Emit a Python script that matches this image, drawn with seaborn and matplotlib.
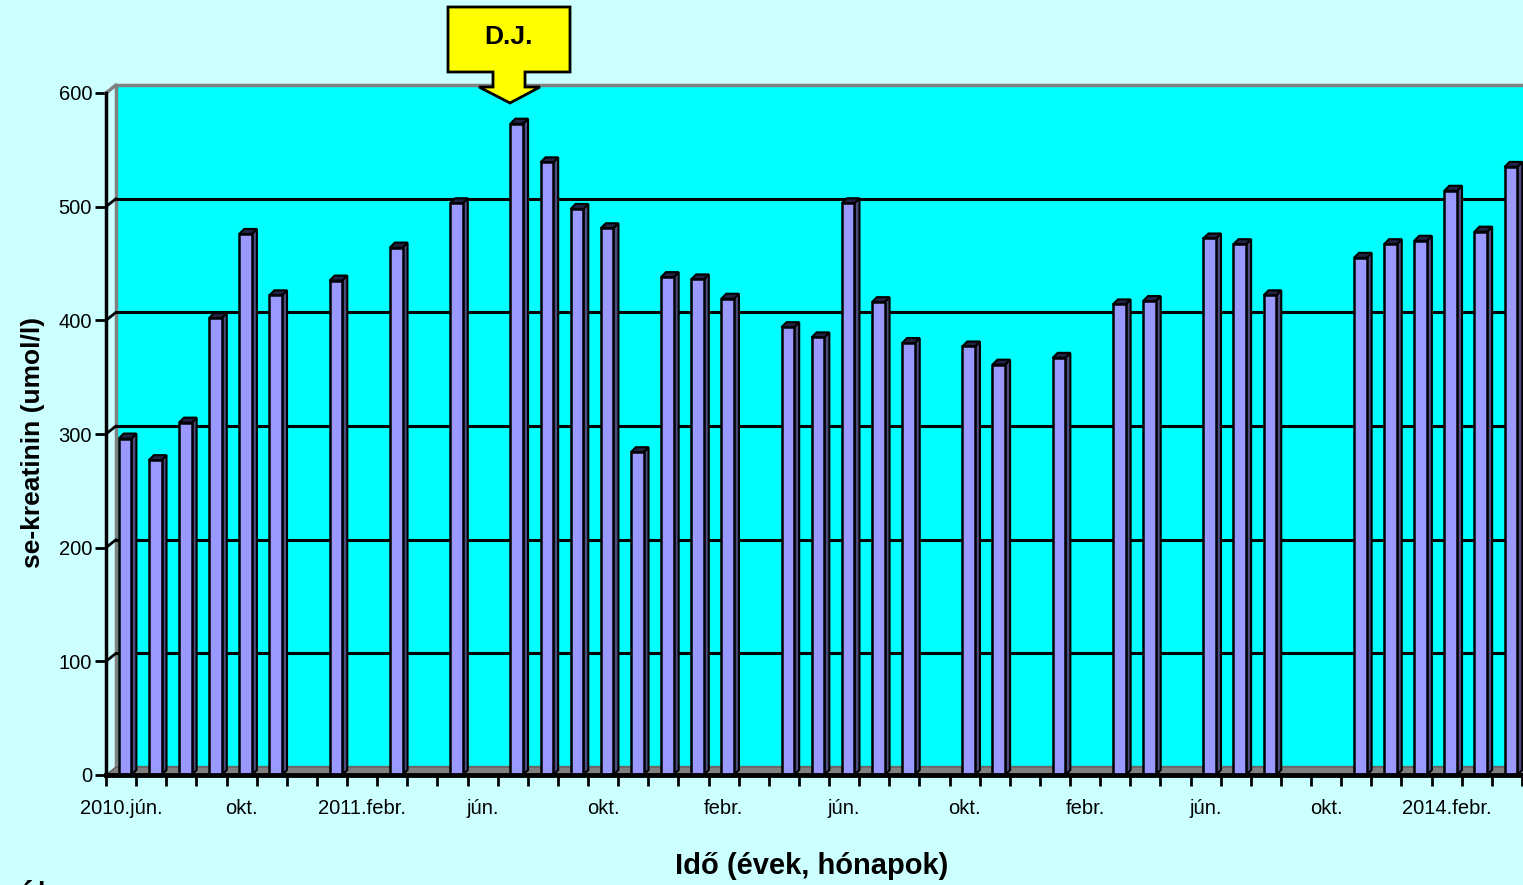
import numpy as np
import pandas as pd
import matplotlib
matplotlib.use('Agg')
import matplotlib.pyplot as plt
import matplotlib.transforms as mtransforms
import seaborn as sns
from matplotlib.patches import Polygon, Rectangle

# 2010 jún. - 2014 ápr. havi se-kreatinin értékek (NaN = nincs mérés)
honapok = [f'{2010 + (5 + i) // 12}-{(5 + i) % 12 + 1:02d}' for i in range(47)]
ertekek = [296, 277, 310, 402, 476, 422, np.nan, 435, np.nan, 464,
           np.nan, 503, np.nan, 573, 539, 498, 481, 284, 438, 436,
           419, np.nan, 394, 385, 503, 416, 380, np.nan, 377, 361,
           np.nan, 367, np.nan, 414, 417, np.nan, 472, 467, 422, np.nan,
           np.nan, 455, 467, 470, 514, 478, 535]
tick_pos = [0, 4, 8, 12, 16, 20, 24, 28, 32, 36, 40, 44]
tick_labels = ['2010.jún.', 'okt.', '2011.febr.', 'jún.', 'okt.', 'febr.',
               'jún.', 'okt.', 'febr.', 'jún.', 'okt.', '2014.febr.']
y_ticks = [0, 100, 200, 300, 400, 500, 600]

df = pd.DataFrame({'honap': honapok, 'ertek': ertekek})

sns.set_theme(style='white')
plt.rcParams['font.family'] = ['Liberation Sans Narrow', 'Liberation Sans', 'DejaVu Sans']
plt.rcParams['text.color'] = 'black'

BG = '#CCFFFF'
WALL = '#00FFFF'
BAR = '#9999FF'
fig = plt.figure(figsize=(15.23, 8.85), dpi=100, facecolor=BG)
ax = fig.add_axes([106 / 1523, 110 / 885, 1416 / 1523, 682 / 885])
ax.set_facecolor('none')

sns.barplot(data=df, x='honap', y='ertek', order=honapok, color=BAR,
            width=0.42, edgecolor='black', linewidth=1.8, saturation=1,
            errorbar=None, ax=ax, zorder=5)
ax.set_xlim(-0.5, 46.5)
ax.set_ylim(0, 600)

# pixel -> adat egység
sx = 1416 / 47.0
sy = 682 / 600.0
wdx, wdy = 10 / sx, 8 / sy    # hátfal eltolás
bdx, bdy = 5 / sx, 5 / sy     # oszlop mélység
shift = mtransforms.offset_copy(ax.transData, fig=fig, x=4, y=0, units='dots')

# hátfal, padló, rácsvonalak
ax.add_patch(Rectangle((-0.5 + wdx, wdy), 47, 600, facecolor=WALL,
                       edgecolor='#808080', linewidth=2.5, clip_on=False, zorder=0))
ax.add_patch(Polygon([(-0.5, 0), (46.5, 0), (46.5 + wdx, wdy), (-0.5 + wdx, wdy)],
                     closed=True, facecolor='#808080', edgecolor='#606060',
                     linewidth=1, clip_on=False, zorder=1))
ax.plot([-0.5, -0.5 + wdx], [600, 600 + wdy], color='#808080', lw=2.5,
        clip_on=False, zorder=1)
for yv in y_ticks[1:-1]:
    ax.plot([-0.5 + wdx, 46.5 + wdx], [yv + wdy, yv + wdy], color='black',
            lw=2.2, clip_on=False, zorder=1)
    ax.plot([-0.5, -0.5 + wdx], [yv, yv + wdy], color='black', lw=2,
            clip_on=False, zorder=1)

# 3D oldal- és tetőlap
bars = [p for p in ax.patches if isinstance(p, Rectangle)
        and p.get_facecolor()[:3] == matplotlib.colors.to_rgb(BAR)]
for p in bars:
    x0, w, h = p.get_x(), p.get_width(), p.get_height()
    if np.isnan(h) or h == 0:
        continue
    p.set_transform(shift)
    x1 = x0 + w
    ax.add_patch(Polygon([(x1, 0), (x1 + bdx, bdy), (x1 + bdx, h + bdy), (x1, h)],
                         closed=True, facecolor='#4D4D80', edgecolor='black',
                         linewidth=1.5, zorder=4, clip_on=False, transform=shift))
    ax.add_patch(Polygon([(x0, h), (x0 + bdx, h + bdy), (x1 + bdx, h + bdy), (x1, h)],
                         closed=True, facecolor='#222244', edgecolor='black',
                         linewidth=1.5, zorder=4, clip_on=False, transform=shift))

# tengelyek
for s in ['top', 'right']:
    ax.spines[s].set_visible(False)
ax.spines['left'].set_color('black')
ax.spines['left'].set_linewidth(2.5)
ax.spines['left'].set_zorder(6)
ax.spines['bottom'].set_color('black')
ax.spines['bottom'].set_linewidth(3.5)
ax.spines['bottom'].set_zorder(6)
ax.grid(False)

ax.set_yticks(y_ticks)
ax.set_yticklabels([str(v) for v in y_ticks])
ax.tick_params(axis='y', direction='out', length=8, width=2, color='black',
               labelsize=14.5, pad=2, labelcolor='black', left=True)
ax.set_xticks(tick_pos)
ax.set_xticklabels(tick_labels)
ax.set_xticks(np.arange(-0.5, 47, 1), minor=True)
ax.tick_params(axis='x', which='major', length=0, labelsize=14.5, pad=17,
               labelcolor='black', bottom=True)
ax.tick_params(axis='x', which='minor', direction='out', length=8, width=2,
               color='black', bottom=True)
ax.set_xlabel('')
ax.set_ylabel('')

fig.text(33 / 1523, 1 - 442 / 885, 'se-kreatinin (umol/l)', rotation=90,
         ha='center', va='center', fontsize=19, fontweight='bold',
         family=['Liberation Sans', 'DejaVu Sans'])
fig.text(812 / 1523, 1 - 866 / 885, 'Idő (évek, hónapok)', ha='center',
         va='center', fontsize=21, fontweight='bold')
fig.text(14 / 1523, 1 - 912 / 885, 'ábra', ha='left', va='baseline',
         fontsize=30, color='black', family=['Liberation Sans', 'DejaVu Sans'])

# D.J. jelölő nyíl
pts = [(448, 7), (570, 7), (570, 72), (525, 72), (525, 87), (540, 87),
       (510, 103), (479, 87), (493, 87), (493, 72), (448, 72)]
fig.patches.append(Polygon([(x / 1523, 1 - y / 885) for x, y in pts], closed=True,
                           facecolor='#FFFF00', edgecolor='black', linewidth=2,
                           transform=fig.transFigure, zorder=10))
fig.text(509 / 1523, 1 - 37 / 885, 'D.J.', ha='center', va='center',
         fontsize=19, fontweight='bold', zorder=11, color='black',
         family=['Liberation Sans', 'DejaVu Sans'])

fig.savefig('out.png', dpi=100, facecolor=BG)
